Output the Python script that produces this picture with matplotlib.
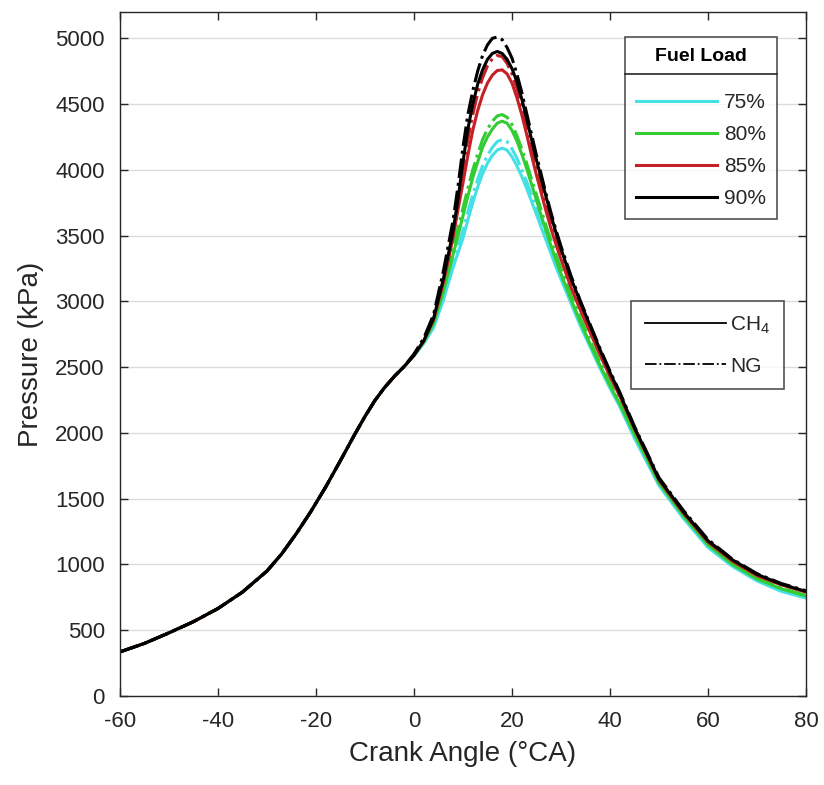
import matplotlib

matplotlib.use("Agg")
import matplotlib.pyplot as plt
from matplotlib.lines import Line2D

# Compression part (shared by all cases, curves overlap there)
compression_angle = [-60, -55, -50, -45, -40, -35, -30, -27, -24, -21, -18, -15, -12, -10, -8,
                     -6, -4, -2]
compression_p = [335, 400, 480, 565, 665, 790, 950, 1080, 1235, 1405, 1590, 1790, 1995, 2125,
                 2245, 2345, 2430, 2505]

# Combustion / expansion part
combustion_angle = [0, 2, 4, 6, 8, 9, 10, 11, 12, 13, 14, 15, 16, 17, 18, 19, 20, 21, 22, 23,
                    24, 25, 26, 27, 28, 29, 30, 32, 34, 36, 38, 40, 42, 45, 50, 55, 60, 65,
                    70, 75, 80]

ch4_75 = [2585, 2680, 2800, 3010, 3260, 3370, 3480, 3620, 3750, 3870, 3970, 4050, 4110, 4150,
          4165, 4150, 4100, 4030, 3950, 3860, 3760, 3660, 3560, 3460, 3360, 3260, 3170, 2990,
          2810, 2650, 2490, 2340, 2200, 1960, 1600, 1350, 1130, 985, 875, 795, 745]
ch4_80 = [2590, 2690, 2830, 3070, 3360, 3500, 3650, 3800, 3940, 4060, 4170, 4250, 4310, 4355,
          4370, 4355, 4300, 4220, 4120, 4010, 3890, 3770, 3650, 3530, 3420, 3310, 3210, 3020,
          2840, 2670, 2510, 2360, 2220, 1990, 1620, 1370, 1150, 1000, 890, 815, 760]
ch4_85 = [2590, 2700, 2860, 3140, 3490, 3700, 3900, 4110, 4300, 4450, 4570, 4660, 4720, 4755,
          4760, 4730, 4660, 4550, 4420, 4270, 4110, 3960, 3820, 3680, 3550, 3430, 3320, 3110,
          2930, 2760, 2590, 2430, 2280, 2030, 1640, 1390, 1170, 1025, 915, 845, 790]
ch4_90 = [2590, 2700, 2870, 3170, 3540, 3780, 4060, 4310, 4500, 4650, 4760, 4840, 4885, 4900,
          4885, 4840, 4770, 4670, 4540, 4390, 4230, 4075, 3930, 3790, 3650, 3520, 3400, 3180,
          2990, 2810, 2630, 2460, 2300, 2040, 1650, 1400, 1180, 1035, 925, 850, 795]

ng_75 = [2590, 2690, 2820, 3040, 3300, 3420, 3540, 3680, 3810, 3930, 4030, 4110, 4170, 4215,
         4230, 4215, 4160, 4090, 4000, 3910, 3810, 3710, 3600, 3500, 3400, 3300, 3200, 3010,
         2830, 2670, 2510, 2350, 2210, 1970, 1610, 1360, 1140, 995, 885, 805, 750]
ng_80 = [2595, 2700, 2850, 3110, 3410, 3560, 3710, 3860, 4000, 4120, 4230, 4310, 4370, 4410,
         4420, 4400, 4345, 4260, 4160, 4050, 3930, 3810, 3690, 3570, 3460, 3350, 3250, 3050,
         2870, 2700, 2530, 2380, 2240, 2000, 1630, 1380, 1160, 1010, 900, 820, 765]
ng_85 = [2595, 2710, 2880, 3190, 3560, 3780, 4010, 4230, 4420, 4580, 4700, 4790, 4845, 4870,
         4860, 4810, 4730, 4620, 4480, 4330, 4170, 4020, 3870, 3730, 3600, 3470, 3360, 3140,
         2950, 2780, 2610, 2450, 2290, 2040, 1650, 1400, 1180, 1030, 920, 848, 793]
ng_90 = [2600, 2720, 2900, 3230, 3620, 3880, 4170, 4420, 4600, 4750, 4870, 4950, 5000, 5010,
         4990, 4930, 4850, 4730, 4590, 4430, 4270, 4110, 3960, 3810, 3670, 3540, 3420, 3200,
         3000, 2820, 2640, 2470, 2310, 2050, 1660, 1410, 1190, 1040, 930, 855, 800]

loads = ["75%", "80%", "85%", "90%"]
colors = ["#45E0E6", "#33CC33", "#C42026", "#000000"]
ch4_series = [ch4_75, ch4_80, ch4_85, ch4_90]
ng_series = [ng_75, ng_80, ng_85, ng_90]

plt.rcParams["font.family"] = ["Liberation Sans", "DejaVu Sans"]
plt.rcParams["mathtext.default"] = "regular"
plt.rcParams["axes.unicode_minus"] = False
text_color = "#262626"

fig = plt.figure(figsize=(8.24, 7.85), dpi=100)
ax = fig.add_axes([0.1456, 0.1134, 0.8325, 0.8713])

angle = compression_angle + combustion_angle
for color, ch4, ng in zip(colors, ch4_series, ng_series):
    ax.plot(angle, compression_p + ch4, color=color, lw=2.2, ls="-")
    ax.plot(angle, compression_p + ng, color=color, lw=2.2, ls="-.")

ax.set_xlim(-60, 80)
ax.set_ylim(0, 5200)
ax.set_xticks(range(-60, 81, 20))
ax.set_yticks(range(0, 5001, 500))
ax.grid(axis="y", color="#DCDCDC", lw=1)
ax.set_axisbelow(True)
ax.tick_params(direction="in", length=6, width=1, top=True, right=True,
               labelsize=16, colors=text_color, pad=11)
for s in ax.spines.values():
    s.set_color(text_color)
    s.set_linewidth(1)
ax.set_xlabel("Crank Angle (°CA)", fontsize=20, color=text_color, labelpad=6)
ax.set_ylabel("Pressure (kPa)", fontsize=20, color=text_color, labelpad=8)

# Legend for fuel load (colours)
load_handles = [Line2D([], [], color=c, lw=2.2) for c in colors]
leg1 = ax.legend(load_handles, loads, loc="upper right", bbox_to_anchor=(0.958, 0.9635),
                 title="Fuel Load", fontsize=15, title_fontsize=14, frameon=True,
                 fancybox=False, edgecolor="#262626", handlelength=3.9, handletextpad=0.3,
                 labelspacing=0.62, borderaxespad=0, borderpad=0.55)
leg1.get_title().set_fontweight("bold")
leg1._legend_box.sep = 20
leg1.get_frame().set_linewidth(1.2)
for t in leg1.get_texts():
    t.set_color(text_color)
ax.add_artist(leg1)

# Legend for fuel type (line styles)
fuel_handles = [Line2D([], [], color="black", lw=1.3, ls="-"),
                Line2D([], [], color="black", lw=1.3, ls="-.")]
leg2 = ax.legend(fuel_handles, ["CH$_4$", "NG"], loc="upper right",
                 bbox_to_anchor=(0.968, 0.5775), fontsize=15, frameon=True,
                 fancybox=False, edgecolor="#262626", handlelength=3.9, handletextpad=0.2,
                 labelspacing=1.0, borderaxespad=0, borderpad=0.65)
leg2.get_frame().set_linewidth(1.2)
for t in leg2.get_texts():
    t.set_color(text_color)

# separator line under the legend title
fig.canvas.draw()
renderer = fig.canvas.get_renderer()
frame_box = leg1.get_frame().get_window_extent(renderer)
title_box = leg1.get_title().get_window_extent(renderer)
y_sep = title_box.y0 - 9
inv = fig.transFigure.inverted()
(x0, y0), (x1, _) = inv.transform([(frame_box.x0, y_sep), (frame_box.x1, y_sep)])
fig.add_artist(Line2D([x0, x1], [y0, y0], transform=fig.transFigure,
                      color="#262626", lw=1.2))

fig.savefig("out.png", dpi=100)
